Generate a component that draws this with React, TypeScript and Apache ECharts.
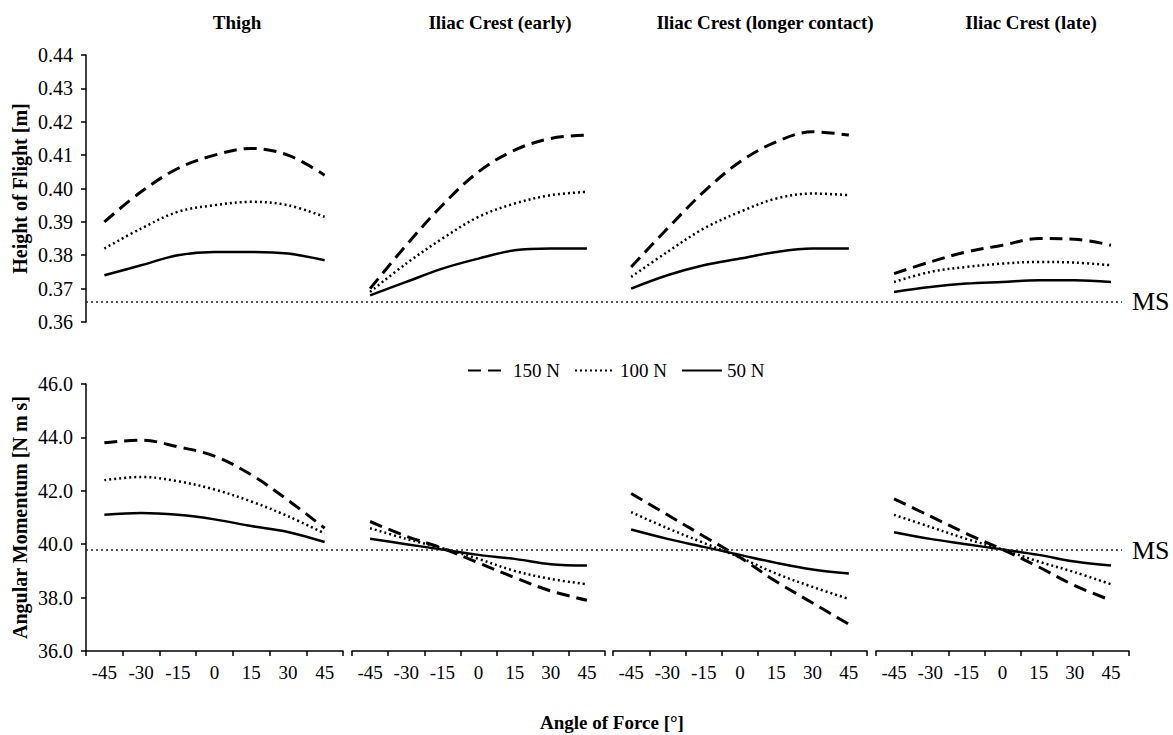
import React, { useEffect, useRef } from "react";
import * as echarts from "echarts";

const angles = ["-45", "-30", "-15", "0", "15", "30", "45"];
const panelTitles = ["Thigh", "Iliac Crest (early)", "Iliac Crest (longer contact)", "Iliac Crest (late)"];
const forces = ["150 N", "100 N", "50 N"];

// Height of flight [m]
const thighH150 = [0.390, 0.399, 0.406, 0.410, 0.412, 0.410, 0.404];
const thighH100 = [0.382, 0.388, 0.393, 0.395, 0.396, 0.395, 0.3915];
const thighH50 = [0.374, 0.377, 0.380, 0.381, 0.381, 0.3805, 0.3785];
const earlyH150 = [0.370, 0.383, 0.395, 0.405, 0.4115, 0.415, 0.416];
const earlyH100 = [0.369, 0.3775, 0.385, 0.3915, 0.3955, 0.398, 0.399];
const earlyH50 = [0.368, 0.372, 0.376, 0.379, 0.3815, 0.382, 0.382];
const longerH150 = [0.3765, 0.388, 0.399, 0.408, 0.414, 0.417, 0.416];
const longerH100 = [0.3735, 0.381, 0.388, 0.393, 0.397, 0.3985, 0.398];
const longerH50 = [0.370, 0.374, 0.377, 0.379, 0.381, 0.382, 0.382];
const lateH150 = [0.3745, 0.378, 0.381, 0.383, 0.385, 0.3848, 0.383];
const lateH100 = [0.372, 0.375, 0.3765, 0.3775, 0.378, 0.3778, 0.377];
const lateH50 = [0.369, 0.3705, 0.3715, 0.372, 0.3725, 0.3725, 0.372];

// Angular momentum [N m s]
const thighA150 = [43.8, 43.9, 43.65, 43.3, 42.6, 41.65, 40.6];
const thighA100 = [42.4, 42.52, 42.36, 42.05, 41.6, 41.05, 40.4];
const thighA50 = [41.1, 41.17, 41.1, 40.93, 40.68, 40.46, 40.08];
const earlyA150 = [40.85, 40.3, 39.85, 39.3, 38.75, 38.25, 37.9];
const earlyA100 = [40.6, 40.2, 39.85, 39.45, 39.0, 38.7, 38.5];
const earlyA50 = [40.2, 40.0, 39.8, 39.6, 39.45, 39.25, 39.2];
const longerA150 = [41.9, 41.1, 40.3, 39.5, 38.6, 37.8, 37.0];
const longerA100 = [41.2, 40.6, 40.05, 39.5, 38.9, 38.4, 37.95];
const longerA50 = [40.55, 40.2, 39.9, 39.6, 39.3, 39.05, 38.9];
const lateA150 = [41.7, 41.05, 40.4, 39.8, 39.15, 38.45, 37.9];
const lateA100 = [41.1, 40.65, 40.2, 39.8, 39.35, 38.95, 38.5];
const lateA50 = [40.45, 40.2, 40.0, 39.8, 39.6, 39.35, 39.2];

const msHeight = 0.366;
const msMomentum = 39.78;

const heightData = [
  [thighH150, thighH100, thighH50],
  [earlyH150, earlyH100, earlyH50],
  [longerH150, longerH100, longerH50],
  [lateH150, lateH100, lateH50],
];
const momentumData = [
  [thighA150, thighA100, thighA50],
  [earlyA150, earlyA100, earlyA50],
  [longerA150, longerA100, longerA50],
  [lateA150, lateA100, lateA50],
];

const FONT = '"Liberation Serif", "Times New Roman", serif';
const panelLeft = [86, 352, 613, 876];
const panelWidth = [257, 253, 254, 253];
const titleX = [237, 500, 765, 1031];
const TOP_Y = 55;
const BOT_Y = 384;
const PANEL_H = 267;

const lineStyles: any[] = [
  { type: [13, 7], width: 3, color: "#000" },
  { type: [2, 3], width: 2.5, color: "#000" },
  { type: "solid", width: 2.5, color: "#000" },
];

export default function App() {
  const ref = useRef<HTMLDivElement>(null);

  useEffect(() => {
    document.body.style.margin = "0";
    if (!ref.current) return;
    const chart = echarts.init(ref.current, null, { renderer: "svg" });

    const grids: any[] = [];
    const xAxes: any[] = [];
    const yAxes: any[] = [];
    const series: any[] = [];

    const addPanel = (row: number, p: number) => {
      const gi = grids.length;
      grids.push({
        left: panelLeft[p],
        width: panelWidth[p],
        top: row === 0 ? TOP_Y : BOT_Y,
        height: PANEL_H,
        containLabel: false,
      });
      xAxes.push({
        type: "category",
        gridIndex: gi,
        data: angles,
        boundaryGap: true,
        show: row === 1,
        axisLine: { show: true, lineStyle: { color: "#000", width: 1.5 } },
        axisTick: { show: true, length: 5, alignWithLabel: false, lineStyle: { color: "#000", width: 1.5 } },
        axisLabel: { fontFamily: FONT, fontSize: 19, color: "#000", margin: 12 },
      });
      const isFirst = p === 0;
      yAxes.push({
        type: "value",
        gridIndex: gi,
        min: row === 0 ? 0.36 : 36,
        max: row === 0 ? 0.44 : 46,
        interval: row === 0 ? 0.01 : 2,
        show: isFirst,
        splitLine: { show: false },
        axisLine: { show: true, lineStyle: { color: "#000", width: 1.5 } },
        axisTick: { show: true, length: 5, lineStyle: { color: "#000", width: 1.5 } },
        axisLabel: {
          fontFamily: FONT,
          fontSize: 20,
          color: "#000",
          margin: 13,
          formatter: (v: number) => (row === 0 ? v.toFixed(2) : v.toFixed(1)),
        },
        name: isFirst ? (row === 0 ? "Height of Flight [m]" : "Angular Momentum [N m s]") : "",
        nameLocation: "middle",
        nameGap: 56,
        nameTextStyle: { fontFamily: FONT, fontSize: 20, fontWeight: "bold", color: "#000" },
      });
      const data = row === 0 ? heightData[p] : momentumData[p];
      forces.forEach((f, k) => {
        series.push({
          type: "line",
          name: f,
          xAxisIndex: gi,
          yAxisIndex: gi,
          data: data[k],
          smooth: 0.35,
          symbol: "none",
          lineStyle: lineStyles[k],
          itemStyle: { color: "#000" },
          emphasis: { disabled: true },
        });
      });
    };

    for (let row = 0; row < 2; row++) {
      for (let p = 0; p < 4; p++) addPanel(row, p);
    }

    // Full-width reference (MS) lines
    [0, 1].forEach((row) => {
      const gi = grids.length;
      grids.push({ left: 86, width: 1036, top: row === 0 ? TOP_Y : BOT_Y, height: PANEL_H, containLabel: false });
      xAxes.push({ type: "value", gridIndex: gi, min: 0, max: 1, show: false });
      yAxes.push({
        type: "value",
        gridIndex: gi,
        min: row === 0 ? 0.36 : 36,
        max: row === 0 ? 0.44 : 46,
        show: false,
        splitLine: { show: false },
      });
      const v = row === 0 ? msHeight : msMomentum;
      series.push({
        type: "line",
        name: "MS",
        xAxisIndex: gi,
        yAxisIndex: gi,
        data: [[0, v], [1, v]],
        symbol: "none",
        lineStyle: { type: [2, 3], width: 1.5, color: "#222" },
        emphasis: { disabled: true },
        endLabel: {
          show: true,
          formatter: "MS",
          distance: 10,
          fontFamily: FONT,
          fontSize: 26,
          color: "#000",
        },
      });
    });

    const graphic: any[] = panelTitles.map((t, i) => ({
      type: "text",
      x: titleX[i],
      y: 22,
      style: {
        text: t,
        textAlign: "center",
        textVerticalAlign: "middle",
        font: `bold 19px ${FONT}`,
        fill: "#000",
      },
    }));
    graphic.push({
      type: "text",
      x: 612,
      y: 722,
      style: {
        text: "Angle of Force [°]",
        textAlign: "center",
        textVerticalAlign: "middle",
        font: `bold 19px ${FONT}`,
        fill: "#000",
      },
    });

    chart.setOption({
      animation: false,
      backgroundColor: "#fff",
      grid: grids,
      xAxis: xAxes,
      yAxis: yAxes,
      series,
      graphic,
      legend: {
        data: forces,
        left: 462,
        top: 356,
        itemWidth: 40,
        itemHeight: 18,
        itemGap: 14,
        itemStyle: { opacity: 0 },
        textStyle: { fontFamily: FONT, fontSize: 19, color: "#000" },
        selectedMode: false,
      },
    });

    return () => chart.dispose();
  }, []);

  return <div ref={ref} style={{ width: 1173, height: 735 }} />;
}
